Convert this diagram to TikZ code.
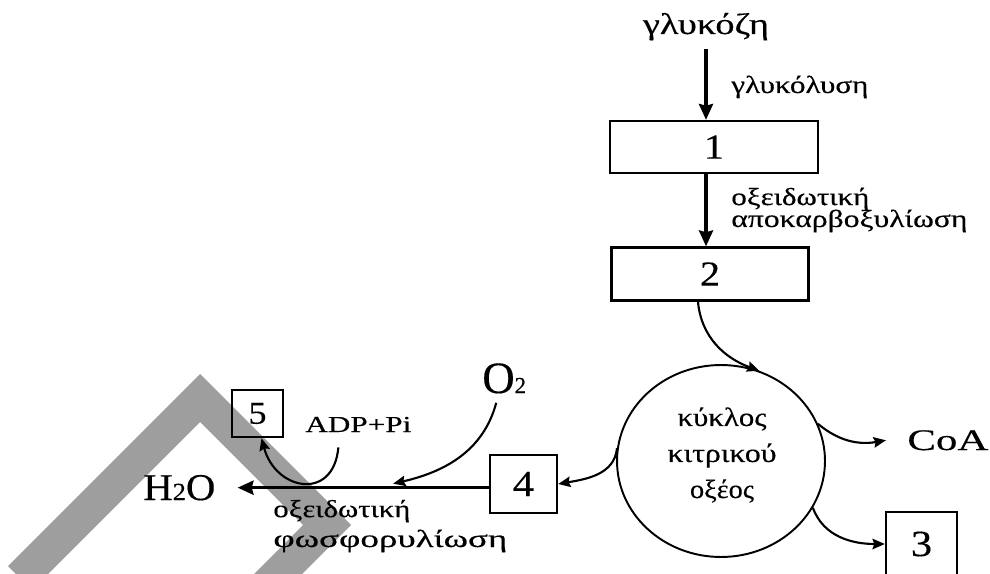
\documentclass[tikz,border=0pt]{standalone}
\usepackage{fontspec}
\usepackage{graphicx}
\setmainfont[FakeBold=0.3]{Liberation Serif}
\usetikzlibrary{arrows.meta,calc,shapes.geometric}
\definecolor{band}{RGB}{158,158,158}
% set a word to a given width (in units of 0.02cm), keeping its height
\newcommand\fitw[2]{\resizebox{\dimexpr 0.02cm*#1\relax}{\height}{#2}}
% slightly widened digits for the boxes
\newcommand\digit[1]{\scalebox{1.15}[1]{#1}}
\tikzset{
  stepbox/.style={draw, line width=1.4pt, inner sep=0pt,
    font=\fontsize{20}{22}\selectfont},
  txt/.style={inner sep=0pt},
  lbl/.style={inner sep=0pt, align=left, font=\fontsize{14}{14}\selectfont},
  bar/.style={line width=1.8pt, -{Stealth[length=9pt,width=8pt,inset=1pt]}},
  curvy/.style={line width=1.2pt, -{Stealth[length=7pt,width=6pt,inset=1pt]}}
}
\begin{document}
\begin{tikzpicture}[x=0.02cm,y=0.02cm]
\clip (0,-574) rectangle (990,0);

% grey chevron band in the background
\fill[band] (200,-374) -- (351,-525) -- (251,-625) -- (203,-625) -- (303,-525)
  -- (200,-422) -- (32,-590) -- (8,-566) -- cycle;

% glycolysis column
\node[txt, anchor=base, font=\fontsize{17}{18}\selectfont] (gluc) at (706,-34) {\fitw{126}{γλυκόζη}};
\node[lbl, anchor=base west] (glylbl) at (731,-93) {\fitw{137}{γλυκόλυση}};
\node[stepbox, minimum width=4.16cm, minimum height=1.04cm] (box1) at (714,-147) {\digit{1}};
\node[lbl, anchor=base west] (oxlbl) at (731,-227)
  {\fitw{138}{οξειδωτική}\\[-1.5pt]\fitw{236}{αποκαρβοξυλίωση}};
\node[stepbox, minimum width=3.94cm, minimum height=1.06cm] (box2) at (710,-274) {\digit{2}};

% citric acid cycle
\node[draw, ellipse, line width=1.1pt, inner sep=0pt, minimum width=4.16cm,
  minimum height=3.84cm] (cyc) at (721,-461) {};
\node[txt, anchor=base, align=center, font=\fontsize{15}{20.5}\selectfont]
  (cyctxt) at (722,-498) {\fitw{89}{κύκλος}\\\fitw{109}{κιτρικού}\\\fitw{64}{οξέος}};
\node[txt, anchor=base west, font=\fontsize{17}{18}\selectfont] (coa) at (907,-450) {\fitw{81}{CoA}};
\node[stepbox, minimum width=1.42cm, minimum height=1.28cm,
  font=\fontsize{21}{22}\selectfont] (box3) at (921.5,-544) {\digit{3}};
\node[stepbox, minimum width=1.34cm, minimum height=1.16cm,
  font=\fontsize{21}{22}\selectfont] (box4) at (523.5,-484) {\digit{4}};

% oxidative phosphorylation
\node[txt, anchor=base west] (h2o) at (143,-500)
  {\fontsize{21.5}{22}\selectfont\fitw{72}{H{\fontsize{14}{14}\selectfont 2}O}};
\node[txt, anchor=base west] (o2) at (482,-393)
  {\fontsize{25.5}{26}\selectfont O{\fontsize{13}{13}\selectfont 2}};
\node[txt, anchor=base west, font=\fontsize{13}{14}\selectfont] (adp) at (305,-432) {\fitw{106}{ADP+Pi}};
\node[stepbox, minimum width=1.02cm, minimum height=0.94cm,
  font=\fontsize{18}{19}\selectfont] (box5) at (257.5,-413.5) {\digit{5}};
\node[lbl, anchor=base west] (phlbl) at (273,-547)
  {\fitw{137}{οξειδωτική}\\[3pt]\fitw{234}{φωσφορυλίωση}};

% connectors
\draw[bar, shorten <=5pt] (gluc.south) -- (gluc.south |- box1.north);
\draw[bar] (box1.south -| gluc.south) -- (box2.north -| gluc.south);
\draw[curvy] ($(box2.south)+(-12,0)$) to[out=-85,in=160] (cyc.67);
\draw[curvy] (cyc.21) to[out=-40,in=190] ([xshift=-12pt]coa.west);
\draw[curvy] (cyc.-27) to[out=-70,in=180] (box3.west);
\draw[curvy] (cyc.173) to[out=-95,in=10] (box4.east);
\draw[bar, shorten >=12.5pt] (box4.west |- h2o.east) -- (h2o.east);
\coordinate (meet) at ($(box4.west |- h2o.east)!0.35!(h2o.east)+(0,4)$);
\draw[curvy] ($(o2.south)+(-8,-9)$) to[out=-105,in=13] (meet);
\draw[curvy] ($(adp.south)+(-20,-15)$) to[out=-95,in=-75,looseness=1.8] ($(box5.south)+(4,0)$);
\end{tikzpicture}
\end{document}
